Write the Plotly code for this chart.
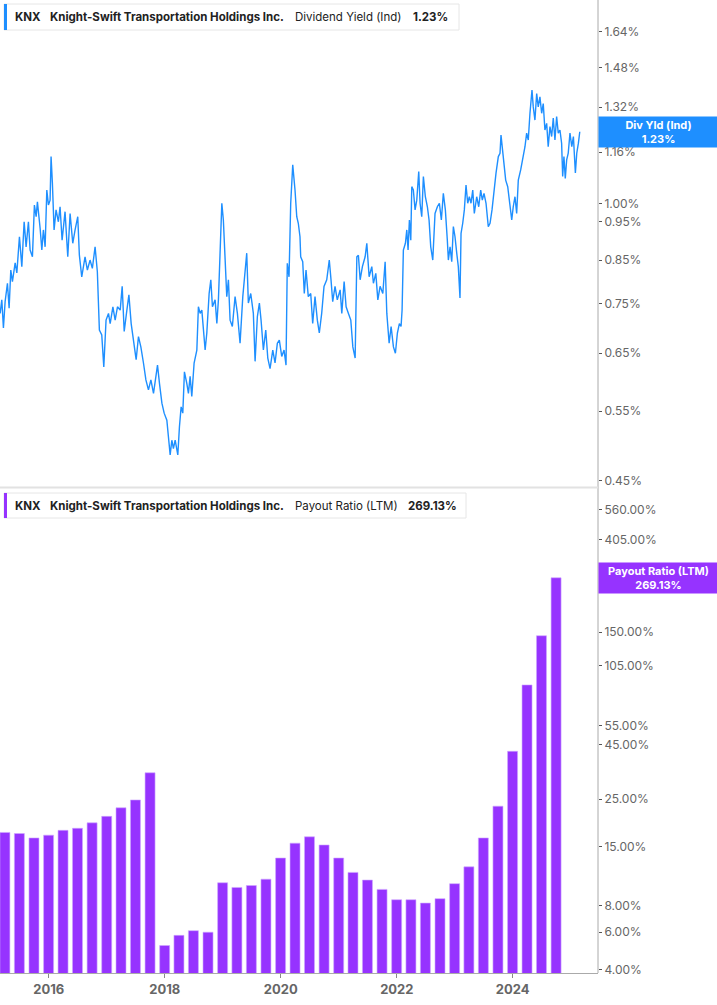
import datetime as dt

import pandas as pd
import plotly.graph_objects as go

# Dividend yield (Ind), % (dates as decimal years)
yield_years = [
    2015.161, 2015.190, 2015.218, 2015.247, 2015.287, 2015.316, 2015.345, 2015.373, 2015.420, 2015.449,
    2015.494, 2015.535, 2015.575, 2015.609, 2015.649, 2015.678, 2015.718, 2015.752, 2015.782, 2015.804,
    2015.851, 2015.880, 2015.907, 2015.937, 2015.966, 2015.994, 2016.023, 2016.040, 2016.063, 2016.092,
    2016.126, 2016.166, 2016.195, 2016.230, 2016.281, 2016.328, 2016.368, 2016.414, 2016.454, 2016.500,
    2016.528, 2016.569, 2016.626, 2016.666, 2016.712, 2016.752, 2016.799, 2016.838, 2016.873, 2016.914,
    2016.949, 2016.988, 2017.028, 2017.057, 2017.104, 2017.143, 2017.183, 2017.230, 2017.264, 2017.299,
    2017.345, 2017.380, 2017.419, 2017.459, 2017.505, 2017.545, 2017.586, 2017.631, 2017.673, 2017.717,
    2017.759, 2017.804, 2017.845, 2017.873, 2017.907, 2017.949, 2017.988, 2018.035, 2018.062, 2018.092,
    2018.121, 2018.148, 2018.178, 2018.224, 2018.252, 2018.281, 2018.310, 2018.338, 2018.379, 2018.407,
    2018.436, 2018.465, 2018.505, 2018.552, 2018.579, 2018.609, 2018.638, 2018.665, 2018.695, 2018.724,
    2018.764, 2018.793, 2018.821, 2018.867, 2018.897, 2018.924, 2018.953, 2018.983, 2019.010, 2019.040,
    2019.069, 2019.097, 2019.126, 2019.165, 2019.212, 2019.252, 2019.298, 2019.345, 2019.384, 2019.413,
    2019.441, 2019.482, 2019.527, 2019.557, 2019.596, 2019.631, 2019.660, 2019.700, 2019.741, 2019.776,
    2019.815, 2019.862, 2019.901, 2019.941, 2019.975, 2020.017, 2020.057, 2020.091, 2020.113, 2020.143,
    2020.172, 2020.207, 2020.246, 2020.276, 2020.303, 2020.332, 2020.344, 2020.379, 2020.406, 2020.436,
    2020.475, 2020.517, 2020.551, 2020.591, 2020.631, 2020.665, 2020.706, 2020.746, 2020.793, 2020.837,
    2020.867, 2020.896, 2020.936, 2020.975, 2021.022, 2021.051, 2021.091, 2021.125, 2021.165, 2021.206,
    2021.241, 2021.281, 2021.310, 2021.337, 2021.367, 2021.406, 2021.453, 2021.482, 2021.522, 2021.568,
    2021.596, 2021.637, 2021.672, 2021.711, 2021.758, 2021.798, 2021.827, 2021.867, 2021.901, 2021.941,
    2021.975, 2022.010, 2022.044, 2022.073, 2022.091, 2022.113, 2022.148, 2022.172, 2022.194, 2022.217,
    2022.241, 2022.258, 2022.285, 2022.315, 2022.344, 2022.378, 2022.401, 2022.430, 2022.458, 2022.492,
    2022.527, 2022.556, 2022.585, 2022.620, 2022.659, 2022.699, 2022.734, 2022.768, 2022.802, 2022.837,
    2022.871, 2022.889, 2022.918, 2022.947, 2022.975, 2023.004, 2023.034, 2023.061, 2023.090, 2023.108,
    2023.137, 2023.165, 2023.194, 2023.223, 2023.251, 2023.280, 2023.310, 2023.337, 2023.378, 2023.413,
    2023.447, 2023.475, 2023.504, 2023.539, 2023.578, 2023.608, 2023.642, 2023.677, 2023.711, 2023.751,
    2023.780, 2023.797, 2023.820, 2023.849, 2023.878, 2023.913, 2023.941, 2023.982, 2024.009, 2024.039,
    2024.068, 2024.096, 2024.137, 2024.171, 2024.211, 2024.240, 2024.268, 2024.297, 2024.332, 2024.354,
    2024.383, 2024.413, 2024.440, 2024.469, 2024.499, 2024.526, 2024.555, 2024.585, 2024.612, 2024.642,
    2024.671, 2024.699, 2024.728, 2024.757, 2024.785, 2024.814, 2024.843, 2024.861, 2024.883, 2024.906,
    2024.930, 2024.957, 2024.987, 2025.016, 2025.044, 2025.078, 2025.102, 2025.130, 2025.154,
]
yield_values = [
    0.729, 0.758, 0.699, 0.754, 0.795, 0.740, 0.826, 0.799, 0.843, 0.819,
    0.909, 0.834, 0.949, 0.883, 0.949, 0.875, 0.858, 0.996, 0.963, 1.005,
    0.931, 0.875, 0.927, 0.883, 1.040, 0.996, 1.010, 1.145, 1.060, 0.927,
    0.982, 0.949, 0.991, 0.900, 0.977, 0.858, 0.972, 0.892, 0.927, 0.963,
    0.862, 0.810, 0.858, 0.826, 0.850, 0.830, 0.883, 0.822, 0.695, 0.685,
    0.625, 0.715, 0.729, 0.708, 0.743, 0.715, 0.743, 0.736, 0.788, 0.692,
    0.736, 0.769, 0.708, 0.669, 0.638, 0.682, 0.662, 0.632, 0.602, 0.585,
    0.602, 0.579, 0.608, 0.628, 0.596, 0.563, 0.547, 0.536, 0.511, 0.485,
    0.506, 0.494, 0.506, 0.485, 0.526, 0.557, 0.547, 0.616, 0.596, 0.579,
    0.608, 0.574, 0.632, 0.656, 0.743, 0.729, 0.736, 0.702, 0.656, 0.689,
    0.772, 0.803, 0.743, 0.758, 0.708, 0.758, 0.883, 1.001, 0.954, 0.834,
    0.765, 0.803, 0.715, 0.702, 0.765, 0.729, 0.669, 0.765, 0.818, 0.867,
    0.751, 0.772, 0.729, 0.635, 0.722, 0.751, 0.715, 0.656, 0.695, 0.641,
    0.622, 0.656, 0.632, 0.669, 0.675, 0.644, 0.656, 0.628, 0.842, 0.810,
    1.001, 1.118, 1.040, 0.963, 0.945, 0.909, 0.858, 0.846, 0.772, 0.826,
    0.765, 0.772, 0.708, 0.765, 0.715, 0.689, 0.729, 0.788, 0.803, 0.850,
    0.803, 0.754, 0.788, 0.758, 0.780, 0.729, 0.799, 0.743, 0.729, 0.715,
    0.662, 0.641, 0.858, 0.862, 0.803, 0.834, 0.858, 0.892, 0.810, 0.834,
    0.795, 0.818, 0.758, 0.788, 0.772, 0.846, 0.729, 0.669, 0.702, 0.662,
    0.650, 0.689, 0.708, 0.702, 0.736, 0.875, 0.892, 0.927, 0.875, 0.954,
    0.900, 1.050, 1.040, 0.982, 1.010, 1.097, 1.001, 0.963, 1.081, 1.020,
    0.991, 0.954, 0.883, 0.850, 0.972, 0.991, 1.001, 0.954, 1.030, 0.982,
    0.900, 0.850, 0.883, 0.846, 0.936, 0.909, 0.867, 0.834, 0.762, 0.918,
    0.945, 0.982, 1.055, 1.001, 1.020, 1.001, 1.040, 0.972, 1.020, 0.991,
    1.040, 1.010, 1.030, 1.001, 0.936, 0.945, 0.982, 1.040, 1.092, 1.145,
    1.156, 1.218, 1.167, 1.123, 1.070, 1.050, 1.001, 0.954, 0.991, 1.020,
    0.972, 1.070, 1.102, 1.134, 1.178, 1.225, 1.201, 1.297, 1.387, 1.321,
    1.272, 1.373, 1.321, 1.360, 1.297, 1.334, 1.236, 1.260, 1.178, 1.248,
    1.213, 1.279, 1.201, 1.285, 1.225, 1.236, 1.190, 1.081, 1.145, 1.075,
    1.134, 1.156, 1.225, 1.178, 1.213, 1.092, 1.156, 1.190, 1.230,
]

# Payout ratio (LTM), %, one bar per quarter from Q1 2015 to Q3 2024
payout_quarters = pd.date_range("2015-03-31", periods=39, freq="QE")
payout_values = [
    17.5, 17.3, 16.5, 17.0, 17.9, 18.3, 19.4, 20.8, 22.8, 24.8,
    33.2, 5.2, 5.8, 6.1, 6.0, 10.2, 9.7, 9.9, 10.6, 13.3,
    15.6, 16.7, 15.3, 13.3, 11.4, 10.5, 9.5, 8.5, 8.5, 8.2,
    8.6, 10.1, 12.1, 16.5, 23.2, 41.8, 85.2, 144.5, 269.13,
]

yield_ticks = [0.45, 0.55, 0.65, 0.75, 0.85, 0.95, 1.00, 1.16, 1.32, 1.48, 1.64]
payout_ticks = [4, 6, 8, 15, 25, 45, 55, 105, 150, 405, 560]
year_ticks = ["2016-01-01", "2018-01-01", "2020-01-01", "2022-01-01", "2024-01-01"]


def dec_to_date(y):
    year = int(y)
    return dt.datetime(year, 1, 1) + dt.timedelta(days=(y - year) * 365.25)


yield_dates = [dec_to_date(y) for y in yield_years]

BLUE = "#1e8fff"
PURPLE = "#9633ff"
FONT = "Inter"
H = 973  # plot area height in px
W = 598  # plot area width in px

fig = go.Figure()
fig.add_trace(go.Scatter(x=yield_dates, y=yield_values, mode="lines",
                         line=dict(color=BLUE, width=1.4), xaxis="x", yaxis="y"))
fig.add_trace(go.Bar(x=payout_quarters, y=payout_values, marker_color=PURPLE,
                     marker_line=dict(color="#cfa8ff", width=0.6),
                     width=63 * 86400000, xaxis="x2", yaxis="y2"))

axis_font = dict(family=FONT, size=12, color="#666")
xrange = ["2015-02-28", "2025-06-21"]

fig.update_layout(
    width=717, height=1005,
    margin=dict(l=0, r=119, t=0, b=32),
    paper_bgcolor="white", plot_bgcolor="white",
    showlegend=False,
    font=dict(family=FONT),
    xaxis=dict(domain=[0, 1], range=xrange, type="date", anchor="y",
               showticklabels=False, showgrid=False, zeroline=False, matches="x2"),
    xaxis2=dict(domain=[0, 1], range=xrange, type="date", anchor="y2",
                tickvals=year_ticks, tickformat="%Y", ticks="outside", ticklen=4,
                tickcolor="#888", showline=True, linecolor="#aaa", linewidth=1,
                showgrid=False, zeroline=False,
                tickfont=dict(family=FONT, size=13, color="#666", weight="bold")),
    yaxis=dict(domain=[1 - 488 / H, 1], type="log", side="right",
               range=[-0.3556, 0.2546],
               tickvals=yield_ticks, ticktext=[f"{v:.2f}%" for v in yield_ticks],
               ticks="outside", ticklen=3, tickcolor="#555",
               showgrid=False, zeroline=False, tickfont=axis_font),
    yaxis2=dict(domain=[0, 1 - 490 / H], type="log", side="right",
                range=[0.588, 2.839],
                tickvals=payout_ticks, ticktext=[f"{v:.2f}%" for v in payout_ticks],
                ticks="outside", ticklen=3, tickcolor="#555",
                showgrid=False, zeroline=False, tickfont=axis_font),
)

# right axis line, panel separator and the header boxes
shapes = [
    dict(type="line", xref="paper", yref="paper", x0=1, x1=1, y0=0, y1=1,
         line=dict(color="#aaa", width=1)),
    dict(type="line", xref="paper", yref="paper", x0=0, x1=1,
         y0=1 - 487.5 / H, y1=1 - 487.5 / H, line=dict(color="#e2e2e2", width=2)),
]
headers = [
    (4, 459, 4, 30, BLUE, 17, ["KNX", "Knight-Swift Transportation Holdings Inc.",
                                 "Dividend Yield (Ind)", "1.23%"], [13, 48, 293, 411]),
    (4, 466, 493, 518, PURPLE, 505.5, ["KNX", "Knight-Swift Transportation Holdings Inc.",
                                        "Payout Ratio (LTM)", "269.13%"], [13, 48, 293, 406]),
]
annotations = []
for x0, x1, y0, y1, col, yc, texts, xs in headers:
    shapes.append(dict(type="rect", xref="paper", yref="paper",
                       x0=x0 / W, x1=x1 / W, y0=1 - y1 / H, y1=1 - y0 / H,
                       fillcolor="white", line=dict(color="#e6e6e6", width=1)))
    shapes.append(dict(type="rect", xref="paper", yref="paper",
                       x0=x0 / W, x1=(x0 + 3) / W, y0=1 - y1 / H, y1=1 - y0 / H,
                       fillcolor=col, line=dict(width=0)))
    for i, (t, xp) in enumerate(zip(texts, xs)):
        txt = t if i == 2 else f"<b>{t}</b>"
        annotations.append(dict(xref="paper", yref="paper", x=xp / W, y=1 - yc / H,
                                xanchor="left", yanchor="middle", showarrow=False,
                                text=txt, font=dict(family=FONT, size=11.5, color="#222")))

# last-value tags on the right axis
annotations.append(dict(xref="paper", yref="y", x=1, y=0.08991, xanchor="left",
                        yanchor="middle", showarrow=False, width=119, height=30,
                        bgcolor=BLUE, borderpad=0, align="center",
                        text="<b>Div Yld (Ind)</b><br><b>1.23%</b>",
                        font=dict(family=FONT, size=11, color="white")))
annotations.append(dict(xref="paper", yref="y2", x=1, y=2.43, xanchor="left",
                        yanchor="middle", showarrow=False, width=119, height=30,
                        bgcolor=PURPLE, borderpad=0, align="center",
                        text="<b>Payout Ratio (LTM)</b><br><b>269.13%</b>",
                        font=dict(family=FONT, size=11, color="white")))

fig.update_layout(shapes=shapes, annotations=annotations)

# the page's default body margin would push the 717x1005 figure off the window
fig.write_html("out.html", config={"displayModeBar": False},
               post_script="document.body.style.margin='0';")
